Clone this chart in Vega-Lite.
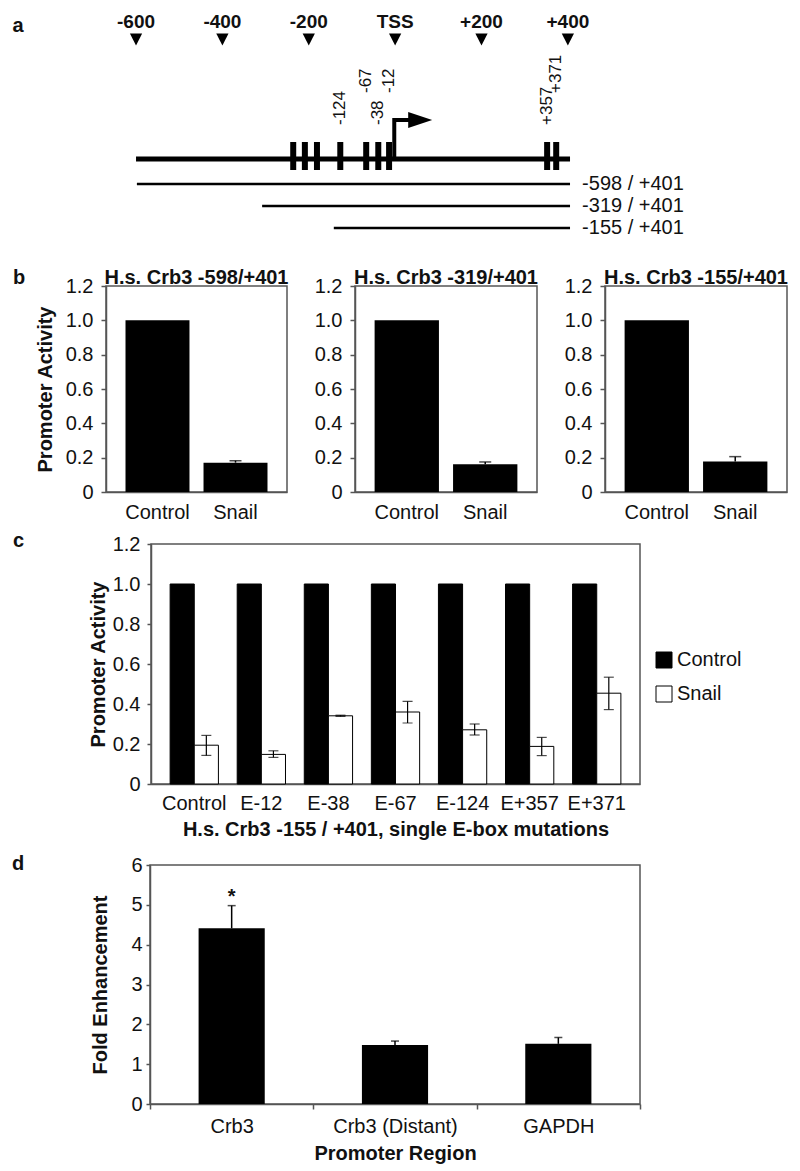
{
  "$schema": "https://vega.github.io/schema/vega-lite/v6.json",
  "padding": 0,
  "background": "white",
  "spacing": 5,
  "config": {
    "font": "Liberation Sans",
    "view": {"stroke": null},
    "axis": {"labelFontSize": 20, "labelColor": "#111", "titleFontSize": 20, "titleFontWeight": "bold", "titleColor": "#111", "domainColor": "#555", "domainWidth": 1.5, "tickColor": "#555", "tickWidth": 1.5, "grid": false},
    "axisX": {"labelAngle": 0, "ticks": false, "labelPadding": 10},
    "axisY": {"tickSize": 5, "labelPadding": 8, "labelOverlap": false, "tickCount": 10},
    "title": {"fontSize": 20, "fontWeight": "bold", "color": "#111"},
    "text": {"color": "#111"}
  },
  "datasets": {
    "ruler": [
      {"pos": -600, "label": "-600"}, {"pos": -400, "label": "-400"}, {"pos": -200, "label": "-200"},
      {"pos": 0, "label": "TSS"}, {"pos": 200, "label": "+200"}, {"pos": 400, "label": "+400"}
    ],
    "ebox": [
      {"pos": -236, "label": ""}, {"pos": -209, "label": ""}, {"pos": -181, "label": ""},
      {"pos": -127, "label": "-124"}, {"pos": -67, "label": "-67"}, {"pos": -39, "label": "-38"},
      {"pos": -14, "label": "-12"}, {"pos": 352, "label": "+357"}, {"pos": 373, "label": "+371"}
    ],
    "gene": [{"start": -600, "end": 405, "tss": -2}],
    "constructs": [
      {"label": "-598 / +401", "start": -598, "end": 405, "rank": 1},
      {"label": "-319 / +401", "start": -308, "end": 405, "rank": 2},
      {"label": "-155 / +401", "start": -142, "end": 405, "rank": 3}
    ],
    "b": [
      {"construct": "-598/+401", "cond": "Control", "value": 1.0},
      {"construct": "-598/+401", "cond": "Snail", "value": 0.171, "hi": 0.182},
      {"construct": "-319/+401", "cond": "Control", "value": 1.0},
      {"construct": "-319/+401", "cond": "Snail", "value": 0.162, "hi": 0.175},
      {"construct": "-155/+401", "cond": "Control", "value": 1.0},
      {"construct": "-155/+401", "cond": "Snail", "value": 0.178, "hi": 0.206}
    ],
    "c": [
      {"mut": "Control", "cond": "Control", "value": 1.0},
      {"mut": "Control", "cond": "Snail", "value": 0.194, "lo": 0.143, "hi": 0.243},
      {"mut": "E-12", "cond": "Control", "value": 1.0},
      {"mut": "E-12", "cond": "Snail", "value": 0.148, "lo": 0.133, "hi": 0.166},
      {"mut": "E-38", "cond": "Control", "value": 1.0},
      {"mut": "E-38", "cond": "Snail", "value": 0.341, "lo": 0.338, "hi": 0.344},
      {"mut": "E-67", "cond": "Control", "value": 1.0},
      {"mut": "E-67", "cond": "Snail", "value": 0.36, "lo": 0.305, "hi": 0.413},
      {"mut": "E-124", "cond": "Control", "value": 1.0},
      {"mut": "E-124", "cond": "Snail", "value": 0.271, "lo": 0.245, "hi": 0.3},
      {"mut": "E+357", "cond": "Control", "value": 1.0},
      {"mut": "E+357", "cond": "Snail", "value": 0.188, "lo": 0.142, "hi": 0.233},
      {"mut": "E+371", "cond": "Control", "value": 1.0},
      {"mut": "E+371", "cond": "Snail", "value": 0.454, "lo": 0.372, "hi": 0.534}
    ],
    "d": [
      {"region": "Crb3", "value": 4.41, "hi": 4.98, "sig": "*"},
      {"region": "Crb3 (Distant)", "value": 1.48, "hi": 1.58, "sig": ""},
      {"region": "GAPDH", "value": 1.51, "hi": 1.67, "sig": ""}
    ]
  },
  "vconcat": [
    {
      "width": 700,
      "height": 262,
      "resolve": {"scale": {"y": "independent"}},
      "layer": [
        {
          "layer": [
            {
              "data": {"name": "ruler"},
              "mark": {"type": "text", "fontSize": 19, "fontWeight": "bold", "baseline": "middle", "align": "center"},
              "encoding": {
                "x": {"field": "pos", "type": "quantitative", "scale": {"domain": [-915, 706], "nice": false, "zero": false}, "axis": null},
                "y": {"datum": 22, "type": "quantitative", "scale": {"domain": [0, 262], "reverse": true, "nice": false, "zero": false}, "axis": null},
                "text": {"field": "label"}
              }
            },
            {
              "data": {"name": "ruler"},
              "mark": {"type": "point", "shape": "M-1,-1L1,-1L0,1Z", "size": 150, "filled": true, "color": "black", "opacity": 1},
              "encoding": {
                "x": {"field": "pos", "type": "quantitative"},
                "y": {"datum": 39.5, "type": "quantitative"}
              }
            },
            {
              "data": {"name": "gene"},
              "mark": {"type": "rule", "strokeWidth": 5, "color": "black"},
              "encoding": {
                "x": {"field": "start", "type": "quantitative"},
                "x2": {"field": "end"},
                "y": {"datum": 159, "type": "quantitative"}
              }
            },
            {
              "data": {"name": "ebox"},
              "mark": {"type": "rule", "strokeWidth": 6, "color": "black"},
              "encoding": {
                "x": {"field": "pos", "type": "quantitative"},
                "y": {"datum": 142, "type": "quantitative"},
                "y2": {"datum": 170}
              }
            },
            {
              "data": {"name": "ebox"},
              "transform": [{"filter": {"field": "label", "oneOf": ["-124", "-38", "+357"]}}],
              "mark": {"type": "text", "fontSize": 17, "angle": 270, "align": "left", "baseline": "middle"},
              "encoding": {
                "x": {"field": "pos", "type": "quantitative"},
                "y": {"datum": 125, "type": "quantitative"},
                "text": {"field": "label"}
              }
            },
            {
              "data": {"name": "ebox"},
              "transform": [{"filter": {"field": "label", "oneOf": ["-67", "-12", "+371"]}}],
              "mark": {"type": "text", "fontSize": 17, "angle": 270, "align": "left", "baseline": "middle"},
              "encoding": {
                "x": {"field": "pos", "type": "quantitative"},
                "y": {"datum": 93, "type": "quantitative"},
                "text": {"field": "label"}
              }
            },
            {
              "data": {"name": "gene"},
              "mark": {"type": "rule", "strokeWidth": 4, "color": "black"},
              "encoding": {
                "x": {"field": "tss", "type": "quantitative"},
                "y": {"datum": 159, "type": "quantitative"},
                "y2": {"datum": 118}
              }
            },
            {
              "data": {"name": "gene"},
              "mark": {"type": "rule", "strokeWidth": 4, "color": "black"},
              "encoding": {
                "x": {"field": "tss", "type": "quantitative"},
                "x2": {"datum": 48},
                "y": {"datum": 120, "type": "quantitative"}
              }
            },
            {
              "data": {"name": "gene"},
              "mark": {"type": "point", "shape": "M-1,-0.67L1,0L-1,0.67Z", "size": 576, "filled": true, "color": "black", "opacity": 1},
              "encoding": {
                "x": {"datum": 58, "type": "quantitative"},
                "y": {"datum": 120, "type": "quantitative"}
              }
            },
            {
              "data": {"values": [{"t": "a"}]},
              "mark": {"type": "text", "fontSize": 20, "fontWeight": "bold", "align": "left", "baseline": "alphabetic"},
              "encoding": {
                "x": {"datum": -886, "type": "quantitative"},
                "y": {"datum": 32, "type": "quantitative"},
                "text": {"field": "t"}
              }
            }
          ]
        },
        {
          "data": {"name": "constructs"},
          "layer": [
            {
              "mark": {"type": "rule", "strokeWidth": 2.5, "color": "black"},
              "encoding": {
                "x": {"field": "start", "type": "quantitative"},
                "x2": {"field": "end"},
                "y": {"field": "rank", "type": "quantitative", "scale": {"domain": [1, 3], "range": [184, 228], "nice": false, "zero": false}, "axis": null}
              }
            },
            {
              "mark": {"type": "text", "fontSize": 20, "align": "left", "baseline": "middle"},
              "encoding": {
                "x": {"datum": 433, "type": "quantitative"},
                "y": {"field": "rank", "type": "quantitative"},
                "text": {"field": "label"}
              }
            }
          ]
        }
      ]
    },
    {
      "hconcat": [
        {
          "width": 38, "height": 240,
          "title": {"text": "b", "anchor": "start", "frame": "group", "dx": 13, "offset": -18, "baseline": "alphabetic"},
          "data": {"values": [{}]},
          "mark": {"type": "point", "opacity": 0},
          "encoding": {}
        },
        {
          "width": 181, "height": 206,
          "view": {"stroke": "#555", "strokeWidth": 1.5},
          "title": {"text": "H.s. Crb3 -598/+401", "anchor": "middle", "frame": "group", "offset": -28, "baseline": "alphabetic"},
          "data": {"name": "b"},
          "transform": [{"filter": "datum.construct == '-598/+401'"}],
          "encoding": {
            "x": {"field": "cond", "type": "nominal", "sort": ["Control", "Snail"], "scale": {"paddingInner": 0.18, "paddingOuter": 0.25}, "title": null}
          },
          "layer": [
            {"mark": {"type": "bar", "color": "black"},
             "encoding": {"y": {"field": "value", "type": "quantitative", "title": "Promoter Activity", "scale": {"domain": [0, 1.2], "nice": false}, "axis": {"values": [0, 0.2, 0.4, 0.6, 0.8, 1, 1.2], "tickCount": 10, "labelOverlap": false, "labelExpr": "datum.value == 0 ? '0' : format(datum.value, '.1f')", "titlePadding": 10}}}},
            {"transform": [{"filter": "datum.hi != null"}], "mark": {"type": "rule", "color": "black", "strokeWidth": 1.5},
             "encoding": {"y": {"field": "value", "type": "quantitative", "title": "Promoter Activity"}, "y2": {"field": "hi"}}},
            {"transform": [{"filter": "datum.hi != null"}], "mark": {"type": "tick", "color": "black", "thickness": 1.5, "size": 12},
             "encoding": {"y": {"field": "hi", "type": "quantitative", "title": "Promoter Activity"}}}
          ]
        },
        {
          "width": 182, "height": 206,
          "view": {"stroke": "#555", "strokeWidth": 1.5},
          "title": {"text": "H.s. Crb3 -319/+401", "anchor": "middle", "frame": "group", "offset": -28, "baseline": "alphabetic"},
          "data": {"name": "b"},
          "transform": [{"filter": "datum.construct == '-319/+401'"}],
          "encoding": {
            "x": {"field": "cond", "type": "nominal", "sort": ["Control", "Snail"], "scale": {"paddingInner": 0.18, "paddingOuter": 0.25}, "title": null}
          },
          "layer": [
            {"mark": {"type": "bar", "color": "black"},
             "encoding": {"y": {"field": "value", "type": "quantitative", "title": null, "scale": {"domain": [0, 1.2], "nice": false}, "axis": {"values": [0, 0.2, 0.4, 0.6, 0.8, 1, 1.2], "tickCount": 10, "labelOverlap": false, "labelExpr": "datum.value == 0 ? '0' : format(datum.value, '.1f')"}}}},
            {"transform": [{"filter": "datum.hi != null"}], "mark": {"type": "rule", "color": "black", "strokeWidth": 1.5},
             "encoding": {"y": {"field": "value", "type": "quantitative", "title": null}, "y2": {"field": "hi"}}},
            {"transform": [{"filter": "datum.hi != null"}], "mark": {"type": "tick", "color": "black", "thickness": 1.5, "size": 12},
             "encoding": {"y": {"field": "hi", "type": "quantitative", "title": null}}}
          ]
        },
        {
          "width": 182, "height": 206,
          "view": {"stroke": "#555", "strokeWidth": 1.5},
          "title": {"text": "H.s. Crb3 -155/+401", "anchor": "middle", "frame": "group", "offset": -28, "baseline": "alphabetic"},
          "data": {"name": "b"},
          "transform": [{"filter": "datum.construct == '-155/+401'"}],
          "encoding": {
            "x": {"field": "cond", "type": "nominal", "sort": ["Control", "Snail"], "scale": {"paddingInner": 0.18, "paddingOuter": 0.25}, "title": null}
          },
          "layer": [
            {"mark": {"type": "bar", "color": "black"},
             "encoding": {"y": {"field": "value", "type": "quantitative", "title": null, "scale": {"domain": [0, 1.2], "nice": false}, "axis": {"values": [0, 0.2, 0.4, 0.6, 0.8, 1, 1.2], "tickCount": 10, "labelOverlap": false, "labelExpr": "datum.value == 0 ? '0' : format(datum.value, '.1f')"}}}},
            {"transform": [{"filter": "datum.hi != null"}], "mark": {"type": "rule", "color": "black", "strokeWidth": 1.5},
             "encoding": {"y": {"field": "value", "type": "quantitative", "title": null}, "y2": {"field": "hi"}}},
            {"transform": [{"filter": "datum.hi != null"}], "mark": {"type": "tick", "color": "black", "thickness": 1.5, "size": 12},
             "encoding": {"y": {"field": "hi", "type": "quantitative", "title": null}}}
          ]
        }
      ],
      "spacing": 68,
      "bounds": "flush"
    },
    {
      "hconcat": [
        {
          "width": 83, "height": 305,
          "title": {"text": "c", "anchor": "start", "frame": "group", "dx": 13, "offset": -23, "baseline": "alphabetic"},
          "data": {"values": [{}]},
          "mark": {"type": "point", "opacity": 0},
          "encoding": {}
        },
        {
          "width": 489, "height": 240,
          "view": {"stroke": "#555", "strokeWidth": 1.5},
          "data": {"name": "c"},
          "encoding": {
            "x": {"field": "mut", "type": "nominal", "sort": ["Control", "E-12", "E-38", "E-67", "E-124", "E+357", "E+371"], "scale": {"paddingInner": 0.28, "paddingOuter": 0.285}, "title": "H.s. Crb3 -155 / +401, single E-box mutations", "axis": {"labelPadding": 9, "titlePadding": 6}},
            "xOffset": {"field": "cond", "type": "nominal", "sort": ["Control", "Snail"], "scale": {"domain": ["Control", "Snail"]}}
          },
          "layer": [
            {"mark": {"type": "bar", "stroke": "black", "strokeWidth": 1},
             "encoding": {
               "y": {"field": "value", "type": "quantitative", "title": "Promoter Activity", "scale": {"domain": [0, 1.2], "nice": false}, "axis": {"values": [0, 0.2, 0.4, 0.6, 0.8, 1, 1.2], "tickCount": 10, "labelOverlap": false, "labelExpr": "datum.value == 0 ? '0' : format(datum.value, '.1f')", "tickSize": 4, "labelPadding": 7, "titlePadding": 4}},
               "color": {"field": "cond", "type": "nominal", "scale": {"domain": ["Control", "Snail"], "range": ["black", "white"]},
                 "legend": {"orient": "none", "legendX": 654, "legendY": 650, "title": null, "symbolType": "square", "symbolSize": 256, "symbolStrokeColor": "black", "symbolStrokeWidth": 1, "symbolOpacity": 1, "labelFontSize": 20, "labelColor": "#111", "rowPadding": 14, "labelOffset": 3, "padding": 0}}
             }},
            {"transform": [{"filter": "datum.cond == 'Snail'"}], "mark": {"type": "rule", "color": "black", "strokeWidth": 1.2},
             "encoding": {"y": {"field": "lo", "type": "quantitative", "title": "Promoter Activity"}, "y2": {"field": "hi"}}},
            {"transform": [{"filter": "datum.cond == 'Snail'"}], "mark": {"type": "tick", "color": "black", "thickness": 1.2, "size": 10},
             "encoding": {"y": {"field": "lo", "type": "quantitative", "title": "Promoter Activity"}}},
            {"transform": [{"filter": "datum.cond == 'Snail'"}], "mark": {"type": "tick", "color": "black", "thickness": 1.2, "size": 10},
             "encoding": {"y": {"field": "hi", "type": "quantitative", "title": "Promoter Activity"}}}
          ]
        }
      ],
      "spacing": 68,
      "bounds": "flush"
    },
    {
      "hconcat": [
        {
          "width": 82, "height": 239,
          "title": {"text": "d", "anchor": "start", "frame": "group", "dx": 12, "offset": -25, "baseline": "alphabetic"},
          "data": {"values": [{}]},
          "mark": {"type": "point", "opacity": 0},
          "encoding": {}
        },
        {
          "width": 490, "height": 239,
          "view": {"stroke": "#555", "strokeWidth": 1.5},
          "data": {"name": "d"},
          "encoding": {
            "x": {"field": "region", "type": "nominal", "sort": ["Crb3", "Crb3 (Distant)", "GAPDH"], "scale": {"paddingInner": 0, "paddingOuter": 0}, "title": "Promoter Region", "axis": {"ticks": true, "tickBand": "extent", "tickSize": 5, "labelPadding": 7, "titlePadding": 7}}
          },
          "layer": [
            {"mark": {"type": "bar", "color": "black", "width": {"band": 0.405}},
             "encoding": {"y": {"field": "value", "type": "quantitative", "title": "Fold Enhancement", "scale": {"domain": [0, 6], "nice": false}, "axis": {"values": [0, 1, 2, 3, 4, 5, 6], "format": "d", "tickCount": 10, "labelOverlap": false, "tickSize": 4, "labelPadding": 4, "titlePadding": 20}}}},
            {"mark": {"type": "rule", "color": "black", "strokeWidth": 1.5},
             "encoding": {"y": {"field": "value", "type": "quantitative", "title": "Fold Enhancement"}, "y2": {"field": "hi"}}},
            {"mark": {"type": "tick", "color": "black", "thickness": 1.5, "size": 8},
             "encoding": {"y": {"field": "hi", "type": "quantitative", "title": "Fold Enhancement"}}},
            {"transform": [{"filter": "datum.sig != ''"}], "mark": {"type": "text", "fontSize": 20, "fontWeight": "bold", "baseline": "alphabetic", "dy": -3},
             "encoding": {"y": {"field": "hi", "type": "quantitative", "title": "Fold Enhancement"}, "text": {"field": "sig"}}}
          ]
        }
      ],
      "spacing": 68,
      "bounds": "flush"
    }
  ]
}
